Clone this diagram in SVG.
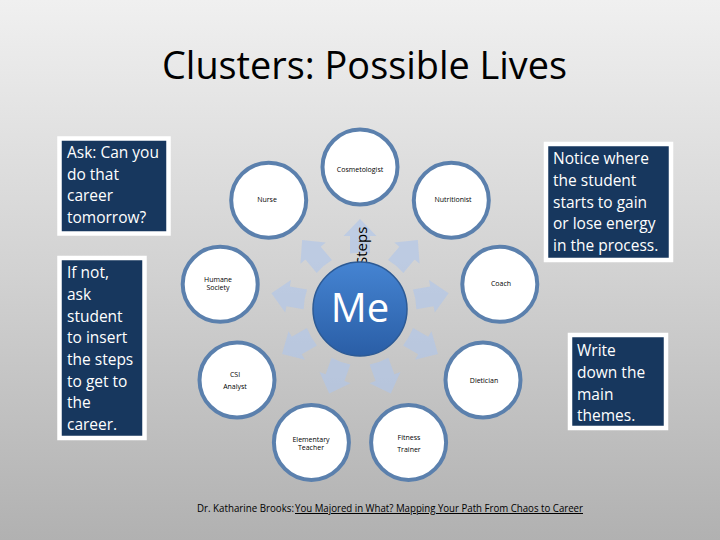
<svg xmlns="http://www.w3.org/2000/svg" xmlns:xlink="http://www.w3.org/1999/xlink" width="720" height="540" viewBox="0 0 720 540">
<defs>
<linearGradient id="bg" x1="0" y1="0" x2="0" y2="1">
<stop offset="0" stop-color="#f0f0f0"/>
<stop offset="0.5" stop-color="#d2d2d2"/>
<stop offset="1" stop-color="#b1b1b1"/>
</linearGradient>
<linearGradient id="me" x1="0" y1="0" x2="0" y2="1">
<stop offset="0" stop-color="#4584d2"/>
<stop offset="1" stop-color="#2a5ea6"/>
</linearGradient>
<path id="arr" d="M350,253.5 Q360,252 370,253.5 L370,236 L376.5,236 L360,219 L343.5,236 L350,236 Z"/>
<style>
.box{fill:#17375e;stroke:#ffffff;stroke-width:4.5}
.bt{font-family:"Open Sans","Liberation Sans",sans-serif;font-size:15.5px;fill:#ffffff}
.ring{fill:#ffffff;stroke:#5b80ad;stroke-width:4}
.lbl{font-family:"Open Sans","Liberation Sans",sans-serif;font-size:7px;fill:#000000;text-anchor:middle}
.ar{fill:#b0c6ea;opacity:0.65}
</style>
</defs>
<rect x="0" y="0" width="720" height="540" fill="url(#bg)"/>
<text x="162" y="79" font-family="'Open Sans','Liberation Sans',sans-serif" font-size="38" fill="#000" textLength="405" lengthAdjust="spacingAndGlyphs">Clusters: Possible Lives</text>

<g id="connectors">
<use xlink:href="#arr" class="ar" transform="rotate(0 360 309)"/>
<use xlink:href="#arr" class="ar" transform="rotate(40 360 309)"/>
<use xlink:href="#arr" class="ar" transform="rotate(80 360 309)"/>
<use xlink:href="#arr" class="ar" transform="rotate(120 360 309)"/>
<use xlink:href="#arr" class="ar" transform="rotate(160 360 309)"/>
<use xlink:href="#arr" class="ar" transform="rotate(200 360 309)"/>
<use xlink:href="#arr" class="ar" transform="rotate(240 360 309)"/>
<use xlink:href="#arr" class="ar" transform="rotate(280 360 309)"/>
<use xlink:href="#arr" class="ar" transform="rotate(320 360 309)"/>
<text transform="translate(367 265) rotate(-90)" font-family="'Open Sans','Liberation Sans',sans-serif" font-size="15" fill="#000">Steps</text>
</g>

<g id="me-node">
<circle cx="360" cy="309" r="47" fill="url(#me)" stroke="#2c5a95" stroke-width="1.5"/>
<text x="360" y="322" font-family="'Open Sans','Liberation Sans',sans-serif" font-size="40" fill="#ffffff" text-anchor="middle">Me</text>
</g>

<g id="cosmetologist"><circle class="ring" cx="360" cy="167" r="37.5"/><text class="lbl" x="360" y="172">Cosmetologist</text></g>
<g id="nutritionist"><circle class="ring" cx="451.3" cy="200.2" r="37.5"/><text class="lbl" x="453" y="202">Nutritionist</text></g>
<g id="coach"><circle class="ring" cx="499.8" cy="284.3" r="37.5"/><text class="lbl" x="501" y="286">Coach</text></g>
<g id="dietician"><circle class="ring" cx="483" cy="380" r="37.5"/><text class="lbl" x="484" y="383">Dietician</text></g>
<g id="fitness-trainer"><circle class="ring" cx="408.6" cy="442.4" r="37.5"/><text class="lbl" x="409" y="440">Fitness</text><text class="lbl" x="409" y="452">Trainer</text></g>
<g id="elementary-teacher"><circle class="ring" cx="311.4" cy="442.4" r="37.5"/><text class="lbl" x="311" y="442">Elementary</text><text class="lbl" x="311" y="450">Teacher</text></g>
<g id="csi-analyst"><circle class="ring" cx="237" cy="380" r="37.5"/><text class="lbl" x="235" y="377">CSI</text><text class="lbl" x="235" y="389">Analyst</text></g>
<g id="humane-society"><circle class="ring" cx="220.2" cy="284.3" r="37.5"/><text class="lbl" x="218" y="282">Humane</text><text class="lbl" x="218" y="290">Society</text></g>
<g id="nurse"><circle class="ring" cx="268.7" cy="200.2" r="37.5"/><text class="lbl" x="267" y="202">Nurse</text></g>

<g id="note-ask">
<rect class="box" x="59.5" y="138.5" width="109" height="95"/>
<text class="bt" x="67"><tspan x="67" y="158">Ask: Can you</tspan><tspan x="67" y="179.5">do that</tspan><tspan x="67" y="201">career</tspan><tspan x="67" y="222.5">tomorrow?</tspan></text>
</g>
<g id="note-ifnot">
<rect class="box" x="59.5" y="258" width="85" height="180"/>
<text class="bt"><tspan x="67" y="278">If not,</tspan><tspan x="67" y="300">ask</tspan><tspan x="67" y="321.5">student</tspan><tspan x="67" y="343">to insert</tspan><tspan x="67" y="365">the steps</tspan><tspan x="67" y="386.5">to get to</tspan><tspan x="67" y="408">the</tspan><tspan x="67" y="430">career.</tspan></text>
</g>
<g id="note-notice">
<rect class="box" x="546" y="144" width="125" height="116"/>
<text class="bt"><tspan x="553" y="164">Notice where</tspan><tspan x="553" y="186">the student</tspan><tspan x="553" y="207.5">starts to gain</tspan><tspan x="553" y="229">or lose energy</tspan><tspan x="553" y="251">in the process.</tspan></text>
</g>
<g id="note-write">
<rect class="box" x="570" y="335" width="96" height="93"/>
<text class="bt"><tspan x="577" y="356">Write</tspan><tspan x="577" y="378">down the</tspan><tspan x="577" y="400">main</tspan><tspan x="577" y="421">themes.</tspan></text>
</g>

<text x="197" y="512" font-family="'Open Sans','Liberation Sans',sans-serif" font-size="10" fill="#000" textLength="97" lengthAdjust="spacingAndGlyphs">Dr. Katharine Brooks:</text>
<text x="295" y="512" font-family="'Open Sans','Liberation Sans',sans-serif" font-size="10" fill="#000" text-decoration="underline" textLength="288" lengthAdjust="spacingAndGlyphs">You Majored in What? Mapping Your Path From Chaos to Career</text>
</svg>
